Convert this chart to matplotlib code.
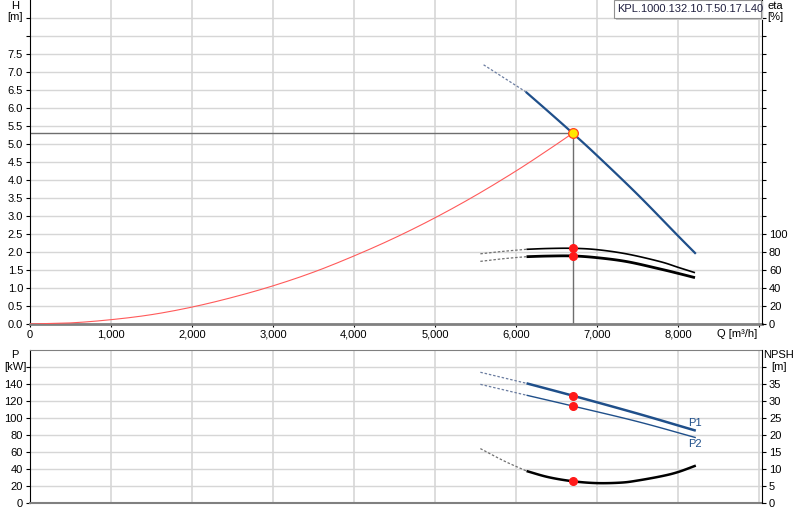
import matplotlib
matplotlib.use("Agg")
import matplotlib.pyplot as plt
from matplotlib.patches import Rectangle
import numpy as np

plt.rcParams['font.family'] = ['Liberation Sans', 'DejaVu Sans']
plt.rcParams['font.size'] = 8

# ---------------- data ----------------
model_name = "KPL.1000.132.10.T.50.17.L40"

q_ticks = [0, 1000, 2000, 3000, 4000, 5000, 6000, 7000, 8000, 9000]
q_tick_labels = ["0", "1,000", "2,000", "3,000", "4,000", "5,000", "6,000", "7,000", "8,000", ""]

h_ticks = [0, 0.5, 1.0, 1.5, 2.0, 2.5, 3.0, 3.5, 4.0, 4.5, 5.0, 5.5, 6.0, 6.5, 7.0, 7.5, 8.0, 8.5]
h_tick_labels = ["0.0", "0.5", "1.0", "1.5", "2.0", "2.5", "3.0", "3.5", "4.0", "4.5",
                 "5.0", "5.5", "6.0", "6.5", "7.0", "7.5", "", ""]
eta_ticks = [0, 20, 40, 60, 80, 100, 120, 140, 160, 180, 200, 220, 240, 260, 280, 300, 320, 340]
eta_tick_labels = ["0", "20", "40", "60", "80", "100"] + [""] * 12
p_ticks = [0, 20, 40, 60, 80, 100, 120, 140, 160]
p_tick_labels = ["0", "20", "40", "60", "80", "100", "120", "140", ""]
npsh_ticks = [0, 5, 10, 15, 20, 25, 30, 35, 40]
npsh_tick_labels = ["0", "5", "10", "15", "20", "25", "30", "35", ""]

# pump head curve (first two points = dashed extrapolated part)
q_head = [5600, 6120, 6400, 6700, 7000, 7500, 8000, 8220]
head = [7.2, 6.45, 5.9, 5.3, 4.68, 3.6, 2.45, 1.95]

# system curve
q_sys = [0, 500, 1000, 1500, 2000, 2500, 3000, 3500, 4000, 4500, 5000, 5500, 6000, 6400, 6700]
h_sys = [0, 0.03, 0.12, 0.26, 0.47, 0.74, 1.06, 1.44, 1.89, 2.39, 2.95, 3.57, 4.25, 4.84, 5.3]

# efficiency curves (first three points: dashed part up to 6130)
q_eta = [5560, 5850, 6130, 6400, 6700, 7000, 7370, 7780, 8000, 8210]
eta_upper = [78, 80.8, 83, 83.9, 84.1, 82.6, 77.8, 69.3, 63, 57]
eta_lower = [69.6, 72.6, 74.8, 75.5, 75.6, 73.7, 69.3, 61.1, 56.3, 51.5]

# power curves (first two points dashed)
q_p = [5560, 6130, 6700, 7500, 8220]
p1 = [153.8, 140.8, 126.3, 105.2, 85.1]
p2 = [139.6, 126.8, 114.1, 95.8, 76.9]

# NPSH curve (first three points dashed)
q_npsh = [5560, 5850, 6130, 6400, 6700, 7000, 7300, 7500, 7800, 8000, 8220]
npsh = [16.0, 12.4, 9.4, 7.6, 6.4, 5.85, 6.0, 6.6, 7.9, 9.1, 11.0]

# duty point
q_op = 6700
h_op = 5.3
eta_op = [84.1, 75.6]
p_op = [126.3, 114.1]
npsh_op = 6.4


def smooth(xs, ys, n=12):
    """Catmull-Rom spline through the given points (for drawing only)."""
    x = np.asarray(xs, float)
    y = np.asarray(ys, float)
    if len(x) < 3:
        return x, y
    px = np.concatenate([[2 * x[0] - x[1]], x, [2 * x[-1] - x[-2]]])
    py = np.concatenate([[2 * y[0] - y[1]], y, [2 * y[-1] - y[-2]]])
    ox, oy = [], []
    t = np.linspace(0, 1, n, endpoint=False)
    for i in range(1, len(px) - 2):
        for arr, out in ((px, ox), (py, oy)):
            p0, p1_, p2_, p3 = arr[i - 1], arr[i], arr[i + 1], arr[i + 2]
            out.extend(0.5 * (2 * p1_ + (-p0 + p2_) * t + (2 * p0 - 5 * p1_ + 4 * p2_ - p3) * t ** 2
                              + (-p0 + 3 * p1_ - 3 * p2_ + p3) * t ** 3))
    ox.append(x[-1])
    oy.append(y[-1])
    return np.array(ox), np.array(oy)


# ---------------- figure ----------------
W, H = 800, 520
fig = plt.figure(figsize=(8, 5.2), dpi=100)


def fx(x):
    return x / W


def fy(y):
    return 1 - y / H


blue = '#1f4f8a'
dash_blue = '#6a7ca0'
dash_gray = '#707070'
grid_h = '#d6d6d6'
grid_v = '#dddddd'
red = '#ff1a1a'

x_left, x_right = 30, 762
xmax = (x_right - x_left) / 81.0 * 1000

ax1 = fig.add_axes([fx(x_left), fy(324), fx(x_right) - fx(x_left), fy(0) - fy(324)])
ax2 = fig.add_axes([fx(x_left), fy(503), fx(x_right) - fx(x_left), fy(350) - fy(503)])

for ax in (ax1, ax2):
    ax.set_xlim(0, xmax)
    ax.set_xticks(q_ticks)
    ax.tick_params(axis='both', length=3, width=0.8, pad=2, labelsize=8, colors='black')
    ax.grid(False)
    for v in q_ticks:
        ax.axvline(v, color=grid_v, lw=1.4, zorder=0)

ax1.set_ylim(0, 9)
ax1.set_yticks(h_ticks)
ax1.set_yticklabels(h_tick_labels)
ax1.set_xticklabels(q_tick_labels)
ax1.tick_params(axis='x', length=2)
for v in h_ticks:
    ax1.axhline(v, color=grid_h, lw=1.0, zorder=0)
ax1.spines['top'].set_visible(False)
ax1.spines['right'].set_visible(False)
ax1.spines['left'].set_color('black')
ax1.spines['bottom'].set_color('#808080')
ax1.spines['bottom'].set_linewidth(2)

ax2.set_ylim(0, 180)
ax2.set_yticks(p_ticks)
ax2.set_yticklabels(p_tick_labels)
ax2.set_xticklabels([""] * len(q_ticks))
ax2.tick_params(axis='x', length=0)
for v in p_ticks:
    ax2.axhline(v, color=grid_h, lw=1.0, zorder=0)
ax2.spines['top'].set_color('#808080')
ax2.spines['right'].set_visible(False)
ax2.spines['left'].set_color('black')
ax2.spines['bottom'].set_color('#808080')
ax2.spines['bottom'].set_linewidth(1.5)

# twin axes
ax1r = ax1.twinx()
ax1r.set_ylim(0, 360)
ax1r.set_yticks(eta_ticks)
ax1r.set_yticklabels(eta_tick_labels)
ax1r.tick_params(axis='y', length=3, width=0.8, pad=2, labelsize=8)
for s in ('left', 'top', 'bottom'):
    ax1r.spines[s].set_visible(False)
ax1r.spines['right'].set_color('black')

ax2r = ax2.twinx()
ax2r.set_ylim(0, 45)
ax2r.set_yticks(npsh_ticks)
ax2r.set_yticklabels(npsh_tick_labels)
ax2r.tick_params(axis='y', length=3, width=0.8, pad=2, labelsize=8)
for s in ('left', 'top', 'bottom'):
    ax2r.spines[s].set_visible(False)
ax2r.spines['right'].set_color('black')

DASH = (0, (2, 1.5))


def draw(ax, xs, ys, split, color, lw, dcolor):
    sx, sy = smooth(xs[:split + 1], ys[:split + 1])
    ax.plot(sx, sy, color=dcolor, lw=0.9, ls=DASH, zorder=3)
    sx, sy = smooth(xs[split:], ys[split:])
    ax.plot(sx, sy, color=color, lw=lw, zorder=4, solid_capstyle='butt')


# ---- top panel curves ----
ax1.plot([0, q_op], [h_op, h_op], color='#6e6e6e', lw=1.0, zorder=2)
ax1.plot([q_op, q_op], [h_op, 0], color='#6e6e6e', lw=1.0, zorder=2)
sx, sy = smooth(q_sys, h_sys)
ax1.plot(sx, sy, color='#ff5a5a', lw=0.8, zorder=3)
draw(ax1, q_head, head, 1, blue, 1.6, dash_blue)
ax1.plot([q_op], [h_op], 'o', ms=7, mfc='#ffe600', mec='#ff4020', mew=0.9, zorder=6)

draw(ax1r, q_eta, eta_upper, 2, 'black', 1.2, dash_gray)
draw(ax1r, q_eta, eta_lower, 2, 'black', 2.0, dash_gray)
ax1r.plot([q_op, q_op], eta_op, 'o', ms=5.5, color=red, zorder=6, ls='none')

# ---- bottom panel curves ----
draw(ax2, q_p, p1, 1, blue, 1.8, dash_blue)
draw(ax2, q_p, p2, 1, blue, 1.0, dash_blue)
ax2.plot([q_op, q_op], p_op, 'o', ms=5.5, color=red, zorder=6, ls='none')
ax2.text(q_p[-1] - 15, p1[-1] + 3, "P1", color=blue, fontsize=8, ha='center', va='bottom')
ax2.text(q_p[-1] - 15, p2[-1] - 2, "P2", color=blue, fontsize=8, ha='center', va='top')

draw(ax2r, q_npsh, npsh, 2, 'black', 1.8, dash_gray)
ax2r.plot([q_op], [npsh_op], 'o', ms=5.5, color=red, zorder=6)

# ---- axis titles ----
fig.text(fx(15), fy(6), "H", ha='center', va='center', fontsize=8)
fig.text(fx(15), fy(17), "[m]", ha='center', va='center', fontsize=8)
fig.text(fx(775), fy(6), "eta", ha='center', va='center', fontsize=8)
fig.text(fx(775), fy(17), "[%]", ha='center', va='center', fontsize=8)
fig.text(fx(757), fy(334), "Q [m³/h]", ha='right', va='center', fontsize=8)
fig.text(fx(15), fy(355), "P", ha='center', va='center', fontsize=8)
fig.text(fx(15), fy(367), "[kW]", ha='center', va='center', fontsize=8)
fig.text(fx(779), fy(355), "NPSH", ha='center', va='center', fontsize=8)
fig.text(fx(779), fy(367), "[m]", ha='center', va='center', fontsize=8)

# model label box
fig.patches.append(Rectangle((fx(616), fy(20)), fx(763) - fx(616), fy(1) - fy(20),
                             transform=fig.transFigure, facecolor='#c8c8c8',
                             edgecolor='none', zorder=9))
fig.patches.append(Rectangle((fx(614), fy(18)), fx(761) - fx(614), fy(0) - fy(18),
                             transform=fig.transFigure, facecolor='white',
                             edgecolor='#909090', lw=0.8, zorder=10))
fig.text(fx(617), fy(9), model_name, ha='left', va='center', fontsize=8,
         color='#202040', zorder=11)

fig.savefig("out.png", dpi=100)
